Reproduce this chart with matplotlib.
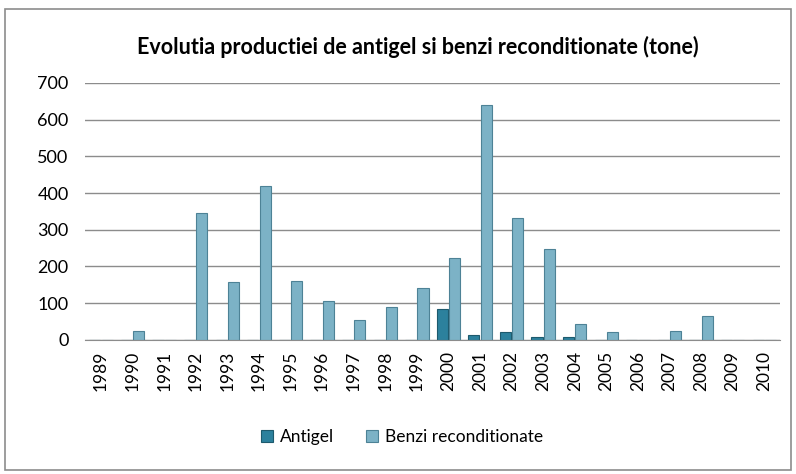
import numpy as np
import matplotlib.pyplot as plt
from matplotlib.patches import Rectangle

years = [str(y) for y in range(1989, 2011)]
antigel = [0, 0, 0, 0, 0, 0, 0, 0, 0, 0, 0, 85, 12, 22, 7, 7, 0, 0, 0, 0, 0, 0]
benzi = [0, 25, 0, 345, 157, 420, 160, 107, 55, 90, 140, 222, 640, 333, 247, 42, 22, 0, 25, 65, 0, 0]

plt.rcParams['font.family'] = ['Lato', 'DejaVu Sans']

fig = plt.figure(figsize=(7.96, 4.74), dpi=100)
# outer chart border
fig.patches.append(Rectangle((0.006, 0.008), 0.988, 0.972, transform=fig.transFigure,
                             fill=False, edgecolor='#8c8c8c', linewidth=1.2))

ax = fig.add_axes([0.107, 0.283, 0.873, 0.542])
x = np.arange(len(years))
w = 0.35
ax.bar(x - w / 2 - 0.02, antigel, width=w, color='#2c819d', edgecolor='#1d5a6d',
       linewidth=0.8, label='Antigel')
ax.bar(x + w / 2 + 0.02, benzi, width=w, color='#7cb2c6', edgecolor='#4d8296',
       linewidth=0.8, label='Benzi reconditionate')

ax.set_xlim(-0.5, len(years) - 0.5)
ax.set_ylim(0, 700)
ax.set_yticks(range(0, 701, 100))
ax.yaxis.grid(True, color='#8c8c8c', linewidth=1)
ax.set_axisbelow(True)
ax.set_xticks(x)
ax.set_xticklabels(years, rotation=90, fontsize=12.5)
ax.tick_params(axis='y', labelsize=13, length=0, pad=12)
ax.tick_params(axis='x', length=0, pad=8)
for s in ['top', 'right', 'left']:
    ax.spines[s].set_visible(False)
ax.spines['bottom'].set_color('#8c8c8c')

fig.text(0.525, 0.9, 'Evolutia productiei de antigel si benzi reconditionate (tone)',
         ha='center', va='center', fontsize=15.5, fontweight='bold')
fig.legend(loc='center', bbox_to_anchor=(0.505, 0.078), ncol=2, frameon=False,
           fontsize=12.5, handlelength=0.7, handleheight=0.7, columnspacing=1.8,
           handletextpad=0.4)

fig.savefig('out.png', dpi=100)
